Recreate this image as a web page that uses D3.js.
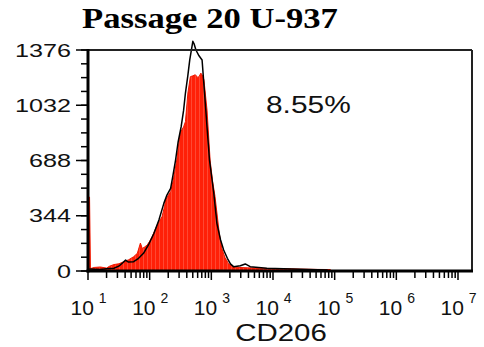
<!DOCTYPE html>
<html><head><meta charset="utf-8">
<script src="https://cdn.jsdelivr.net/npm/d3@7"></script>
<style>body{margin:0;background:#fff}svg{display:block}</style>
</head><body>
<svg id="c" width="484" height="347"></svg>
<script>
// ---- data (CD206 intensity as log10 exponent, event counts) ----
const title = "Passage 20 U-937";
const xLabel = "CD206";
const gateLabel = "8.55%";
const yTicks = [0, 344, 688, 1032, 1376];
const xTickExps = [1, 2, 3, 4, 5, 6, 7];

const redLog = [1.00,1.025,1.04,1.10,1.20,1.30,1.35,1.42,1.50,1.58,1.66,1.74,1.80,1.85,1.88,1.92,1.96,2.00,2.04,2.08,2.12,2.16,2.20,2.24,2.26,2.30,2.34,2.38,2.44,2.48,2.50,2.55,2.58,2.62,2.66,2.70,2.74,2.78,2.80,2.83,2.86,2.88,2.93,2.98,3.02,3.06,3.10,3.13,3.17,3.22,3.28,3.36,3.45,3.58,3.70,3.90,4.12,4.44,4.70,4.93,4.95];
const redCount = [460,460,15,22,25,18,30,40,45,58,70,89,110,174,140,150,162,185,214,250,286,312,338,400,442,470,494,560,691,820,865,897,930,1108,1210,1215,1222,1205,1210,1232,1215,1190,1002,691,560,463,330,230,140,85,45,27,22,20,18,16,15,12,10,9,0];

const blackLog = [1.02,1.20,1.30,1.42,1.50,1.56,1.61,1.65,1.74,1.82,1.90,1.98,2.07,2.15,2.23,2.28,2.34,2.38,2.42,2.46,2.51,2.55,2.58,2.62,2.65,2.70,2.72,2.75,2.80,2.85,2.89,2.93,2.97,3.04,3.09,3.15,3.20,3.26,3.31,3.36,3.47,3.55,3.63,3.90,4.44,4.87,4.90];
const blackCount = [12,10,14,17,30,50,68,56,58,79,110,162,235,318,421,473,515,600,691,800,897,1000,1108,1220,1314,1430,1415,1376,1340,1314,1108,897,691,484,297,193,131,79,44,27,33,44,27,17,11,6,0];

// ---- layout ----
const svg = d3.select("#c");
const L = 88, R = 472, T = 50, B = 271;
const x = d3.scaleLog().domain([10, Math.pow(10, 7.227)]).range([L, R]);
const y = d3.scaleLinear().domain([0, 1376]).range([B, T]);

const red = redLog.map((e, i) => ({v: Math.pow(10, e), c: redCount[i]}));
const blk = blackLog.map((e, i) => ({v: Math.pow(10, e), c: blackCount[i]}));

// faint stripe pattern (histogram bar gaps)
const defs = svg.append("defs");
const pat = defs.append("pattern").attr("id", "stripes").attr("patternUnits", "userSpaceOnUse")
  .attr("width", 4).attr("height", 10);
pat.append("rect").attr("width", 4).attr("height", 10).attr("fill", "#ff2008");
pat.append("rect").attr("x", 3).attr("width", 0.6).attr("height", 10).attr("fill", "#ff9a8a").attr("opacity", 0.55);

const area = d3.area().x(d => x(d.v)).y0(y(0)).y1(d => y(d.c));
svg.append("path").datum(red).attr("d", area)
  .attr("fill", "url(#stripes)").attr("stroke", "#f01800").attr("stroke-width", 1);

const line = d3.line().x(d => x(d.v)).y(d => y(d.c));
svg.append("path").datum(blk).attr("d", line)
  .attr("fill", "none").attr("stroke", "#000").attr("stroke-width", 1.5).attr("stroke-linejoin", "round");

// frame
svg.append("line").attr("x1", L).attr("x2", R).attr("y1", T).attr("y2", T).attr("stroke", "#222").attr("stroke-width", 2);
svg.append("line").attr("x1", R).attr("x2", R).attr("y1", T).attr("y2", B).attr("stroke", "#222").attr("stroke-width", 2);

// y axis
const yAxis = svg.append("g");
const yMinor = d3.range(0, 1376 + 1, 86);
yAxis.selectAll("line.mn").data(yMinor).join("line")
  .attr("x1", L - 7).attr("x2", L).attr("y1", d => y(d)).attr("y2", d => y(d))
  .attr("stroke", "#000").attr("stroke-width", 1.5);
yAxis.selectAll("line.mj").data(yTicks).join("line")
  .attr("x1", L - 12).attr("x2", L).attr("y1", d => y(d)).attr("y2", d => y(d))
  .attr("stroke", "#000").attr("stroke-width", 1.5);
yAxis.selectAll("text").data(yTicks).join("text")
  .attr("transform", d => `translate(71,${y(d) + 6.5}) scale(1.4,1)`)
  .attr("text-anchor", "end").attr("font-family", "Liberation Sans, Arial, sans-serif")
  .attr("font-size", 18).attr("fill", "#111").text(d => d);

// x axis ticks
const xAxis = svg.append("g");
const minors = [];
for (let e = 1; e < 7.3; e++) for (let m = 2; m <= 9; m++) { const v = m * Math.pow(10, e); if (v <= x.domain()[1]) minors.push(v); }
xAxis.selectAll("line.mn").data(minors).join("line")
  .attr("x1", d => x(d)).attr("x2", d => x(d)).attr("y1", B).attr("y2", B + 7)
  .attr("stroke", "#000").attr("stroke-width", 1.5);
xAxis.selectAll("line.mj").data(xTickExps).join("line")
  .attr("x1", d => x(Math.pow(10, d))).attr("x2", d => x(Math.pow(10, d))).attr("y1", B).attr("y2", B + 9)
  .attr("stroke", "#000").attr("stroke-width", 1.5);
const xt = xAxis.selectAll("text").data(xTickExps).join("text")
  .attr("x", d => x(Math.pow(10, d)) - 17.5).attr("y", 315)
  .attr("font-family", "Liberation Sans, Arial, sans-serif").attr("font-size", 21).attr("fill", "#111");
xt.append("tspan").text("10");
xt.append("tspan").attr("dx", 5).attr("dy", -12).attr("font-size", 14).text(d => d);

// axis lines (thick)
svg.append("line").attr("x1", L).attr("x2", L).attr("y1", T - 1).attr("y2", B + 1.5).attr("stroke", "#000").attr("stroke-width", 3);
svg.append("line").attr("x1", L - 1.5).attr("x2", R + 1).attr("y1", B).attr("y2", B).attr("stroke", "#000").attr("stroke-width", 3);

// texts
svg.append("text").attr("transform", "translate(210,28) scale(1.155,1)").attr("text-anchor", "middle")
  .attr("font-family", "Liberation Serif, Times New Roman, serif").attr("font-weight", "bold")
  .attr("font-size", 30).attr("fill", "#000").text(title);
svg.append("text").attr("transform", "translate(266,113) scale(1.3,1)").attr("text-anchor", "start")
  .attr("font-family", "Liberation Sans, Arial, sans-serif").attr("font-size", 23).attr("fill", "#111").text(gateLabel);
svg.append("text").attr("transform", "translate(281,341) scale(1.28,1)").attr("text-anchor", "middle")
  .attr("font-family", "Liberation Sans, Arial, sans-serif").attr("font-size", 23).attr("fill", "#111").text(xLabel);
</script>
</body></html>
